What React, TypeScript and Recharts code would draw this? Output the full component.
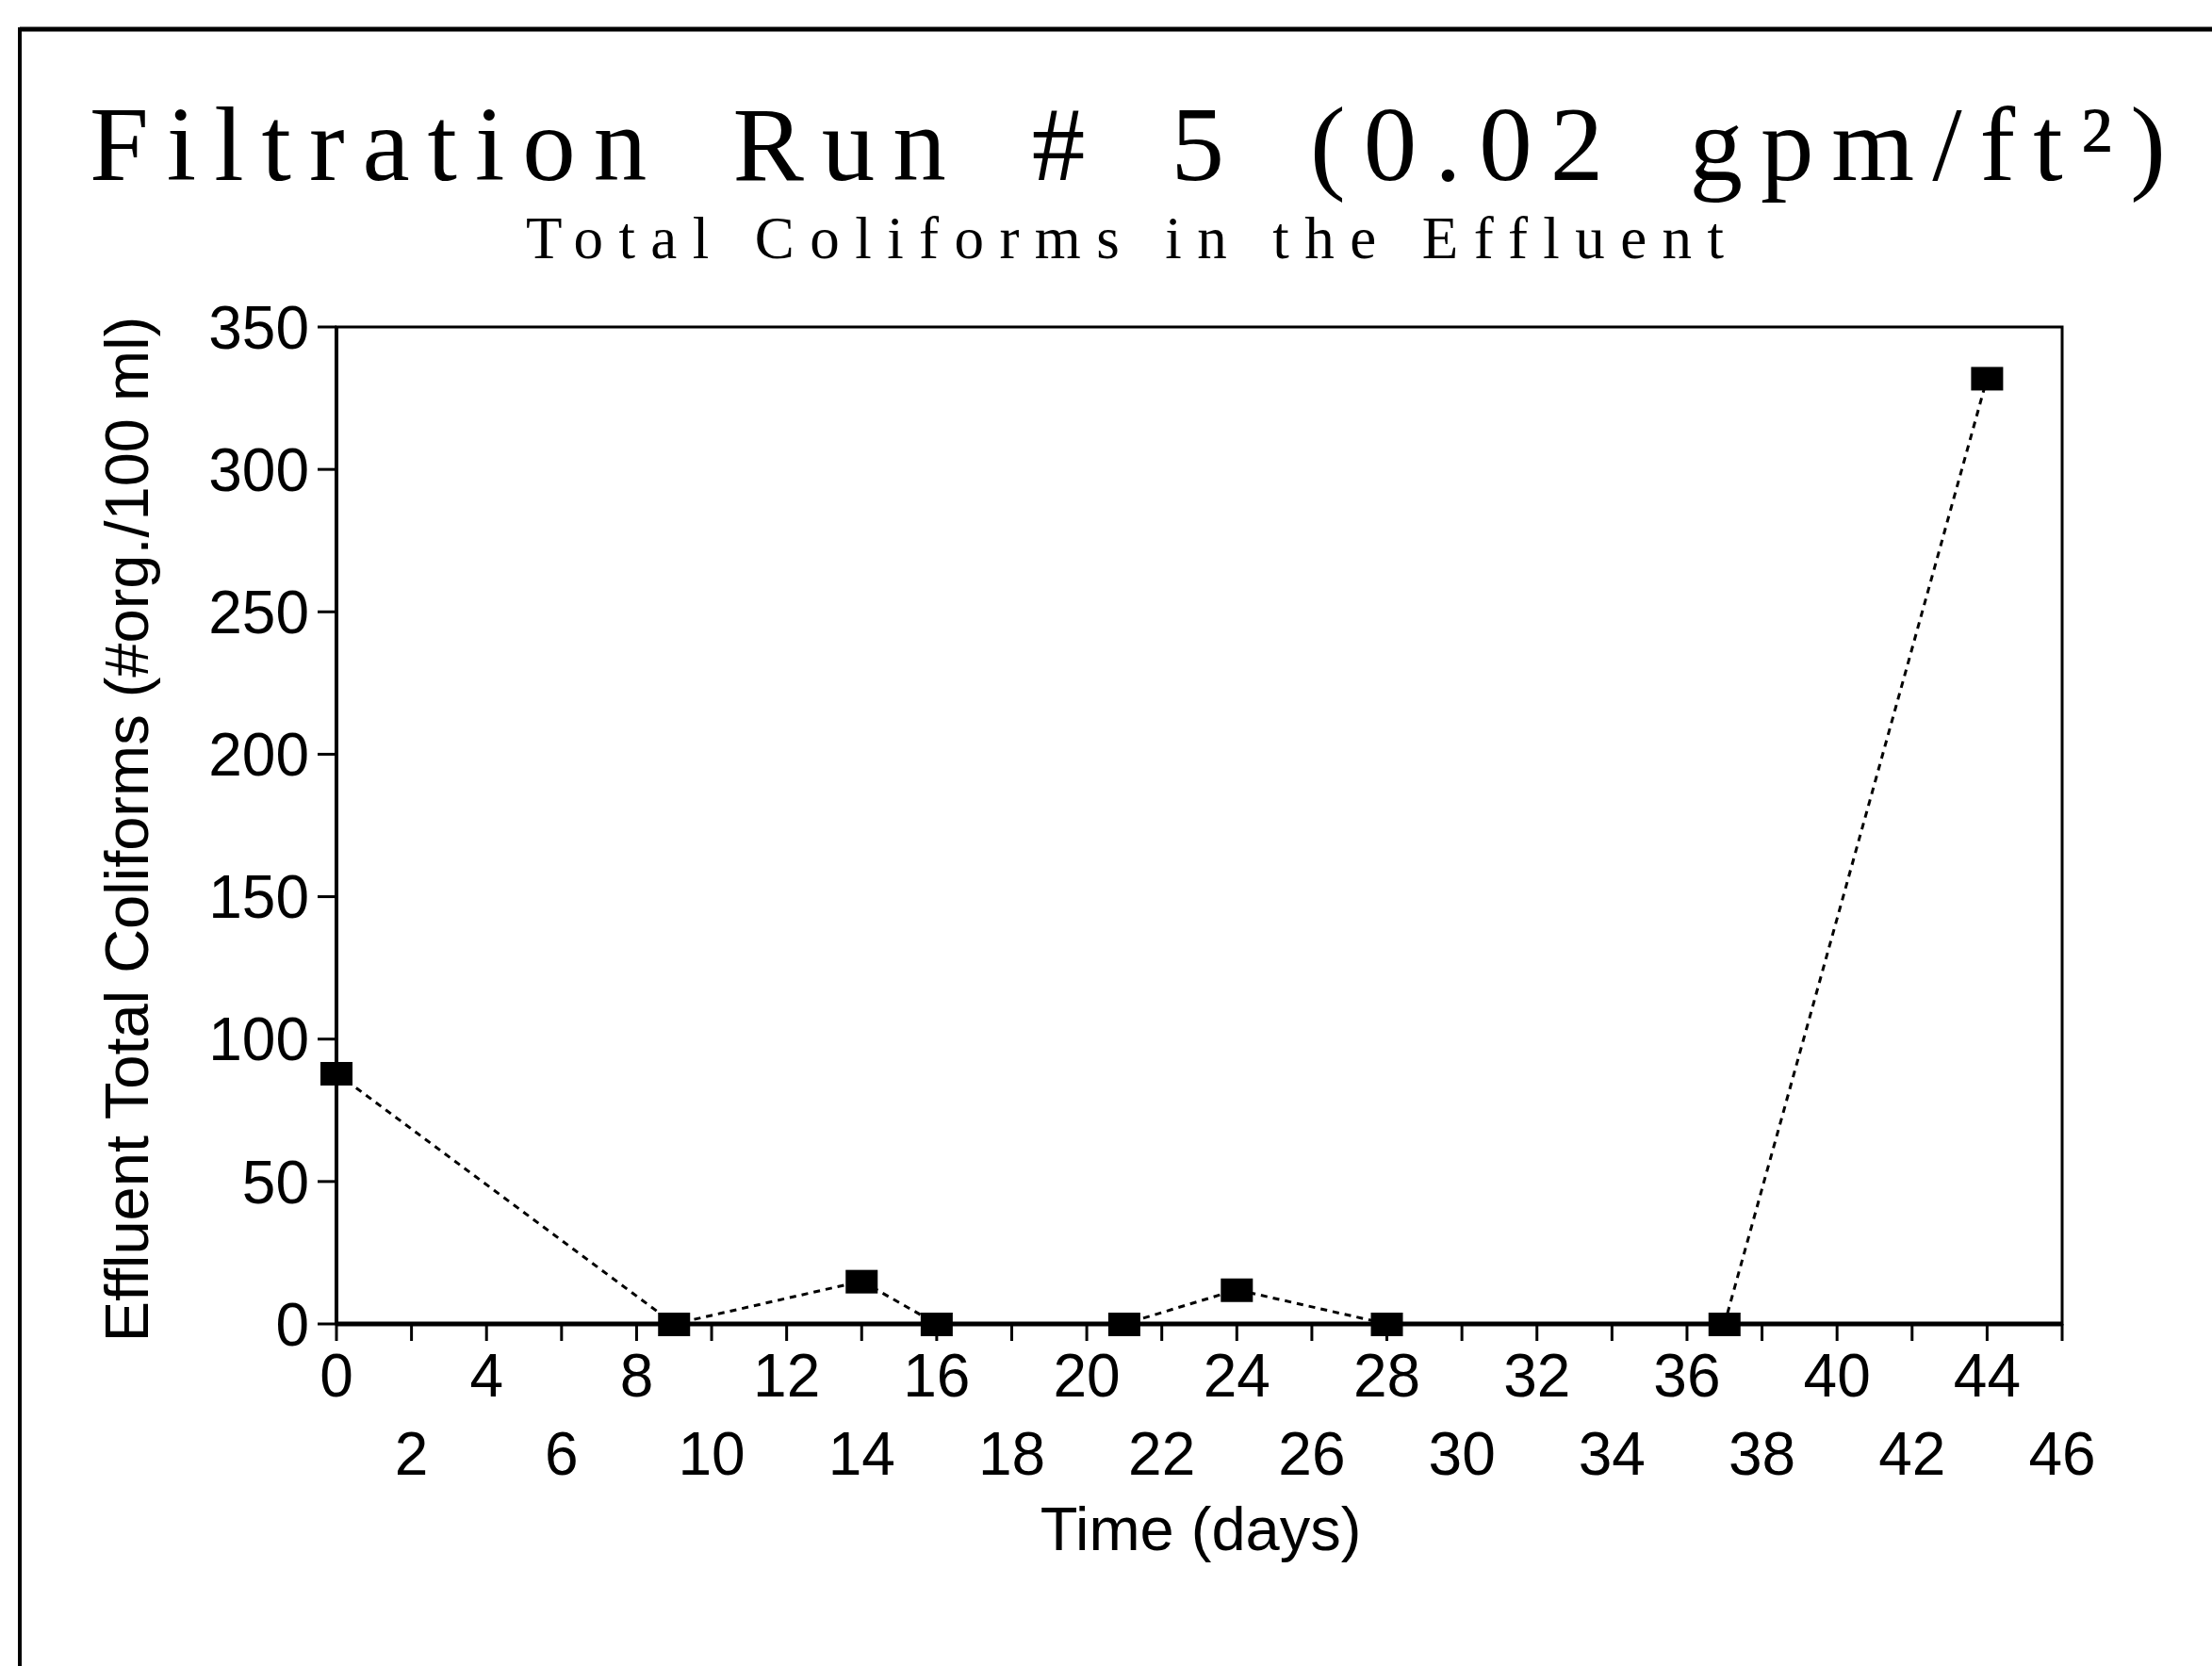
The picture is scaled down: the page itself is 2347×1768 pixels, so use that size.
import { Line, LineChart, ReferenceArea, XAxis, YAxis } from "recharts";

// Effluent total coliforms sampled over the filter run
const days = [0, 9, 14, 16, 21, 24, 28, 37, 44];
const coliforms = [88, 0, 15, 0, 0, 12, 0, 0, 332];

const xTicks = [0, 2, 4, 6, 8, 10, 12, 14, 16, 18, 20, 22, 24, 26, 28, 30, 32, 34, 36, 38, 40, 42, 44, 46];
const yTicks = [0, 50, 100, 150, 200, 250, 300, 350];

const title = "Filtration Run # 5 (0.02 gpm/ft²)";
const subtitle = "Total Coliforms in the Effluent";
const xTitle = "Time (days)";
const yTitle = "Effluent Total Coliforms (#org./100 ml)";

const W = 2347;
const H = 1768;
const SANS = "'Liberation Sans', Arial, sans-serif";
const SERIF = "'Liberation Serif', 'Times New Roman', serif";

const data = days.map((day, i) => ({ day, value: coliforms[i] }));

// x labels alternate between two rows: multiples of 4 on top, the rest below
function TimeTick(props: any) {
  const { x, y, payload } = props;
  const v = payload.value as number;
  const lower = v % 4 !== 0;
  return (
    <text
      x={x}
      y={y + (lower ? 140 : 57)}
      textAnchor="middle"
      fontFamily={SANS}
      fontSize={64}
      fill="#000"
    >
      {v}
    </text>
  );
}

function SquareDot(props: any) {
  const { cx, cy, index } = props;
  if (cx == null || cy == null) return null;
  return <rect key={index} x={cx - 17} y={cy - 12} width={34} height={25} fill="#000" />;
}

export default function App() {
  return (
    <div style={{ position: "absolute", left: 0, top: 0, width: W, height: H, background: "#fff" }}>
      <svg width={W} height={H} style={{ position: "absolute", left: 0, top: 0 }}>
        <line x1={21} y1={31} x2={W} y2={31} stroke="#000" strokeWidth={5} />
        <line x1={21} y1={29} x2={21} y2={H} stroke="#000" strokeWidth={4} />
        <text
          x={95}
          y={191}
          fontFamily={SERIF}
          fontSize={113}
          wordSpacing={25}
          textLength={2203}
          lengthAdjust="spacing"
          fill="#000"
        >
          {title}
        </text>
        <text
          x={558}
          y={274}
          fontFamily={SERIF}
          fontSize={63}
          textLength={1271}
          lengthAdjust="spacing"
          fill="#000"
        >
          {subtitle}
        </text>
        <text x={1274} y={1645} textAnchor="middle" fontFamily={SANS} fontSize={65} fill="#000">
          {xTitle}
        </text>
        <text
          x={157}
          y={880}
          transform="rotate(-90 157 880)"
          textAnchor="middle"
          fontFamily={SANS}
          fontSize={65}
          fill="#000"
        >
          {yTitle}
        </text>
      </svg>
      <div style={{ position: "absolute", left: 0, top: 0 }}>
        <LineChart
          width={W}
          height={H}
          data={data}
          margin={{ top: 347, right: 159, bottom: 163, left: 157 }}
        >
          <ReferenceArea
            x1={0}
            x2={46}
            y1={0}
            y2={350}
            fill="none"
            stroke="#000"
            strokeWidth={3}
            ifOverflow="visible"
          />
          <XAxis
            type="number"
            dataKey="day"
            domain={[0, 46]}
            ticks={xTicks}
            interval={0}
            height={200}
            tickSize={18}
            tickMargin={2}
            axisLine={{ stroke: "#000", strokeWidth: 5 }}
            tickLine={{ stroke: "#000", strokeWidth: 3 }}
            tick={<TimeTick />}
          />
          <YAxis
            type="number"
            domain={[0, 350]}
            ticks={yTicks}
            interval={0}
            width={200}
            tickSize={20}
            tickMargin={9}
            axisLine={{ stroke: "#000", strokeWidth: 4 }}
            tickLine={{ stroke: "#000", strokeWidth: 3 }}
            tick={{ fill: "#000", fontSize: 64, fontFamily: SANS }}
          />
          <Line
            type="linear"
            dataKey="value"
            stroke="#000"
            strokeWidth={3}
            strokeDasharray="7 6"
            dot={SquareDot}
            activeDot={false}
            isAnimationActive={false}
          />
        </LineChart>
      </div>
    </div>
  );
}
